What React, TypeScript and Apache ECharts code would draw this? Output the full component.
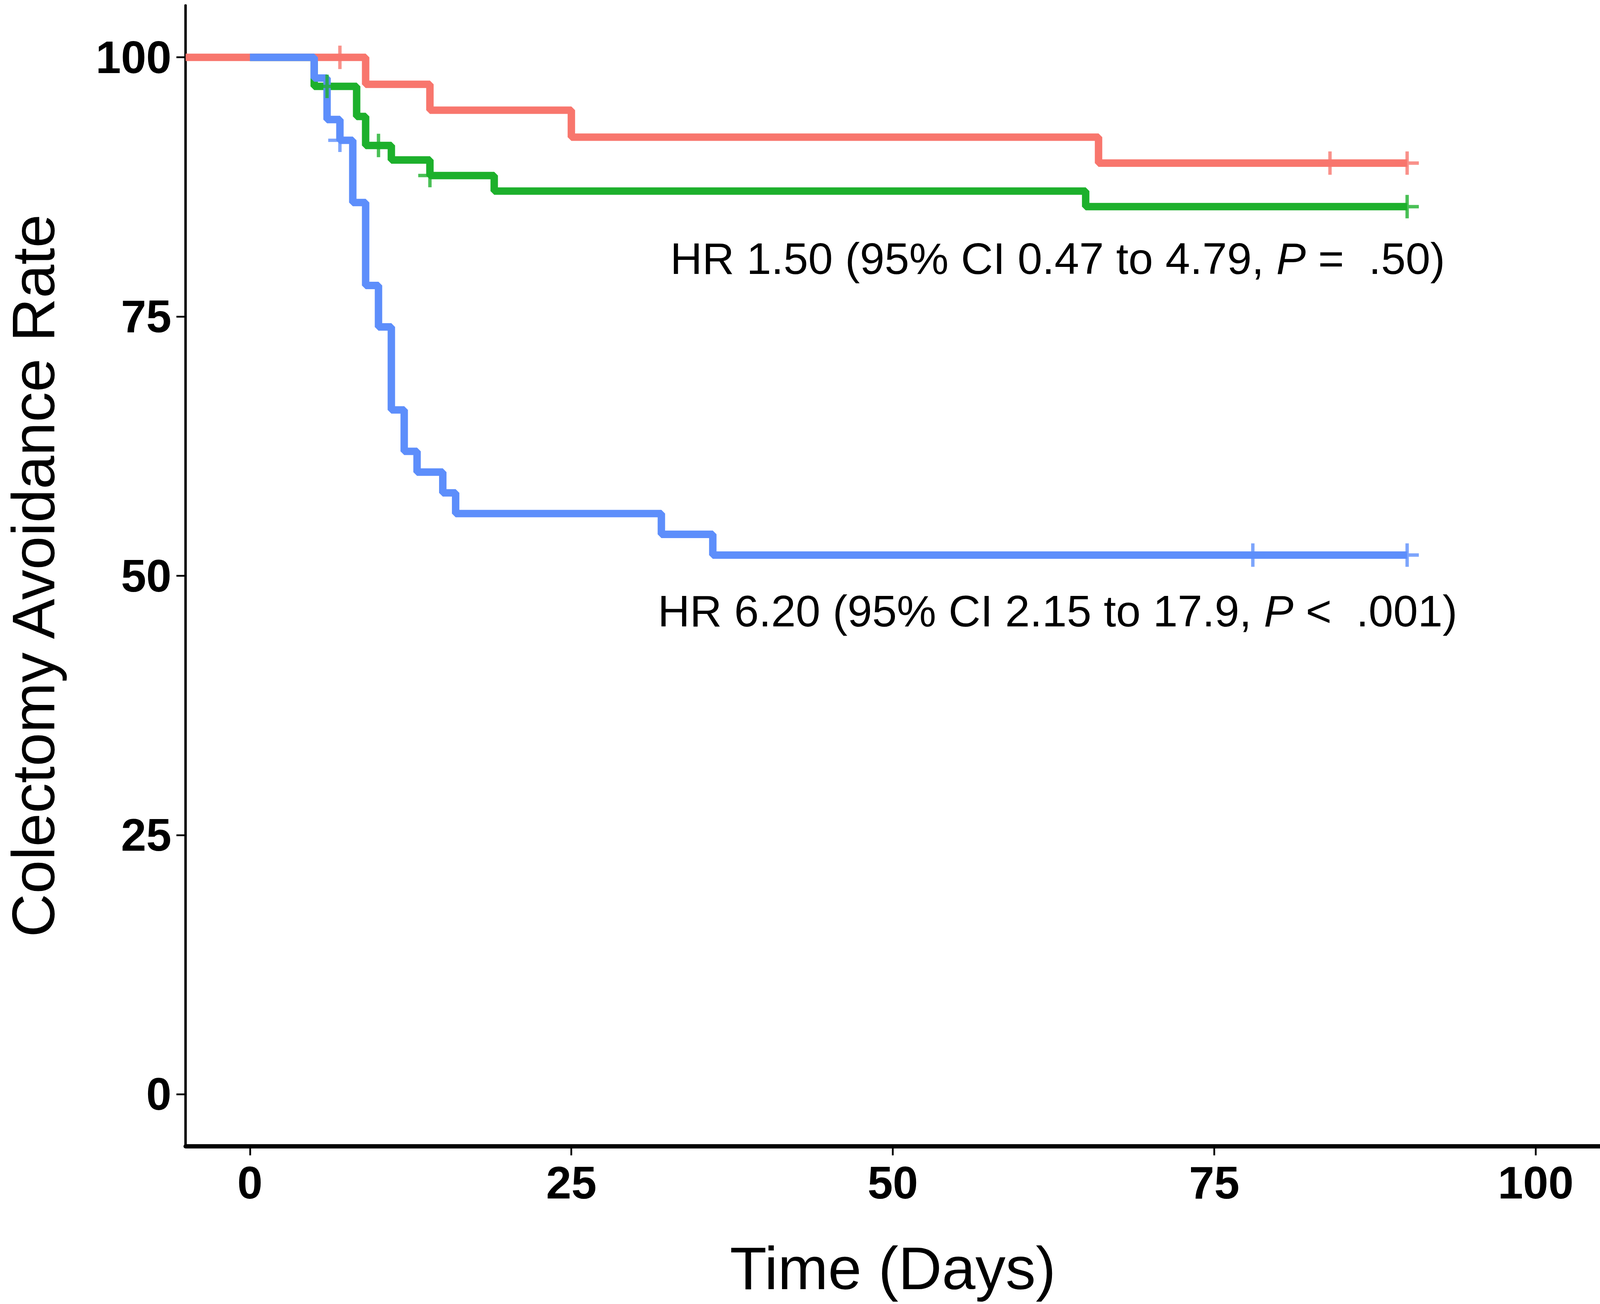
import React, { useEffect, useRef } from "react";
import * as echarts from "echarts";

const redSteps: [number, number][] = [[-5, 100], [9, 97.4], [14, 94.9], [25, 92.3], [66, 89.8], [90, 89.8]];
const greenSteps: [number, number][] = [[0, 100], [5, 97.2], [8.3, 94.3], [9, 91.5], [11, 90.1], [14, 88.6], [19, 87.1], [65, 85.6], [90, 85.6]];
const blueSteps: [number, number][] = [[0, 100], [5, 98], [6, 94], [7, 92], [8, 86], [9, 78], [10, 74], [11, 66], [12, 62], [13, 60], [15, 58], [16, 56], [32, 54], [36, 52], [90, 52]];
const redCensor: [number, number][] = [[7, 100], [84, 89.8], [90, 89.8]];
const greenCensor: [number, number][] = [[6, 97.2], [10, 91.5], [14, 88.6], [90, 85.6]];
const blueCensor: [number, number][] = [[7, 92], [78, 52], [90, 52]];
const xTicks = [0, 25, 50, 75, 100];
const yTicks = [0, 25, 50, 75, 100];

const RED = "#F8766D", GREEN = "#1DB02C", BLUE = "#5D8EFB";
const plus = "path://M-1.3,-9h2.6v18h-2.6zM-9,-1.3h18v2.6h-18z";

export default function App() {
  const ref = useRef<HTMLDivElement>(null);
  useEffect(() => {
    const el = ref.current!;
    const W = el.clientWidth, H = el.clientHeight;
    const s = W / 4512, t = H / 3337;
    const chart = echarts.init(el, null, { renderer: "svg" });
    const line = (data: any, color: string, z: number) => ({
      type: "line", data, step: "end", showSymbol: false, z,
      lineStyle: { color, width: 21 * s }, itemStyle: { color },
    });
    const cens = (data: any, color: string, z: number) => ({
      type: "scatter", data, symbol: plus, symbolSize: 66 * s, z,
      itemStyle: { color },
    });
    const font = "Liberation Sans, Arial, sans-serif";
    const fs = 125 * s;
    chart.setOption({
      animation: false,
      backgroundColor: "#fff",
      grid: { left: 510 * s, top: 14 * t, right: -10 * s, bottom: 404 * t },
      xAxis: {
        type: "value", min: -5, max: 105, splitLine: { show: false },
        axisLine: { onZero: false, lineStyle: { color: "#000", width: 12 * s } },
        axisTick: { length: 26 * s, lineStyle: { color: "#000", width: 5 * s }, customValues: xTicks },
        axisLabel: { customValues: xTicks, margin: 40 * s, fontSize: 128 * s, fontWeight: "bold", color: "#000", fontFamily: font },
        name: "Time (Days)", nameLocation: "middle", nameGap: 235 * t,
        nameTextStyle: { fontSize: 170 * s, color: "#000", fontFamily: font },
      },
      yAxis: {
        type: "value", min: -5, max: 105, splitLine: { show: false },
        axisLine: { show: true, onZero: false, lineStyle: { color: "#000", width: 7 * s } },
        axisTick: { show: true, length: 26 * s, lineStyle: { color: "#000", width: 5 * s }, customValues: yTicks },
        axisLabel: { customValues: yTicks, margin: 40 * s, fontSize: 128 * s, fontWeight: "bold", color: "#000", fontFamily: font },
        name: "Colectomy Avoidance Rate", nameLocation: "middle", nameGap: 345 * s,
        nameTextStyle: { fontSize: 170 * s, color: "#000", fontFamily: font },
      },
      series: [
        line(greenSteps, GREEN, 2), line(redSteps, RED, 3), line(blueSteps, BLUE, 4),
        cens(greenCensor, GREEN, 5), cens(redCensor, RED, 5), cens(blueCensor, BLUE, 5),
      ],
      graphic: [
        {
          type: "text", left: 1890 * s, top: 605 * t,
          style: {
            text: "HR 1.50 (95% CI 0.47 to 4.79, {i|P} =  .50)",
            fontSize: fs, fontFamily: font, fill: "#000",
            rich: { i: { fontStyle: "italic", fontSize: fs, fontFamily: font } },
          },
        },
        {
          type: "text", left: 1855 * s, top: 1507 * t,
          style: {
            text: "HR 6.20 (95% CI 2.15 to 17.9, {i|P} <  .001)",
            fontSize: fs, fontFamily: font, fill: "#000",
            rich: { i: { fontStyle: "italic", fontSize: fs, fontFamily: font } },
          },
        },
      ],
    });
    return () => chart.dispose();
  }, []);
  return <div ref={ref} style={{ position: "fixed", left: 0, top: 0, width: "100vw", height: "100vh" }} />;
}
